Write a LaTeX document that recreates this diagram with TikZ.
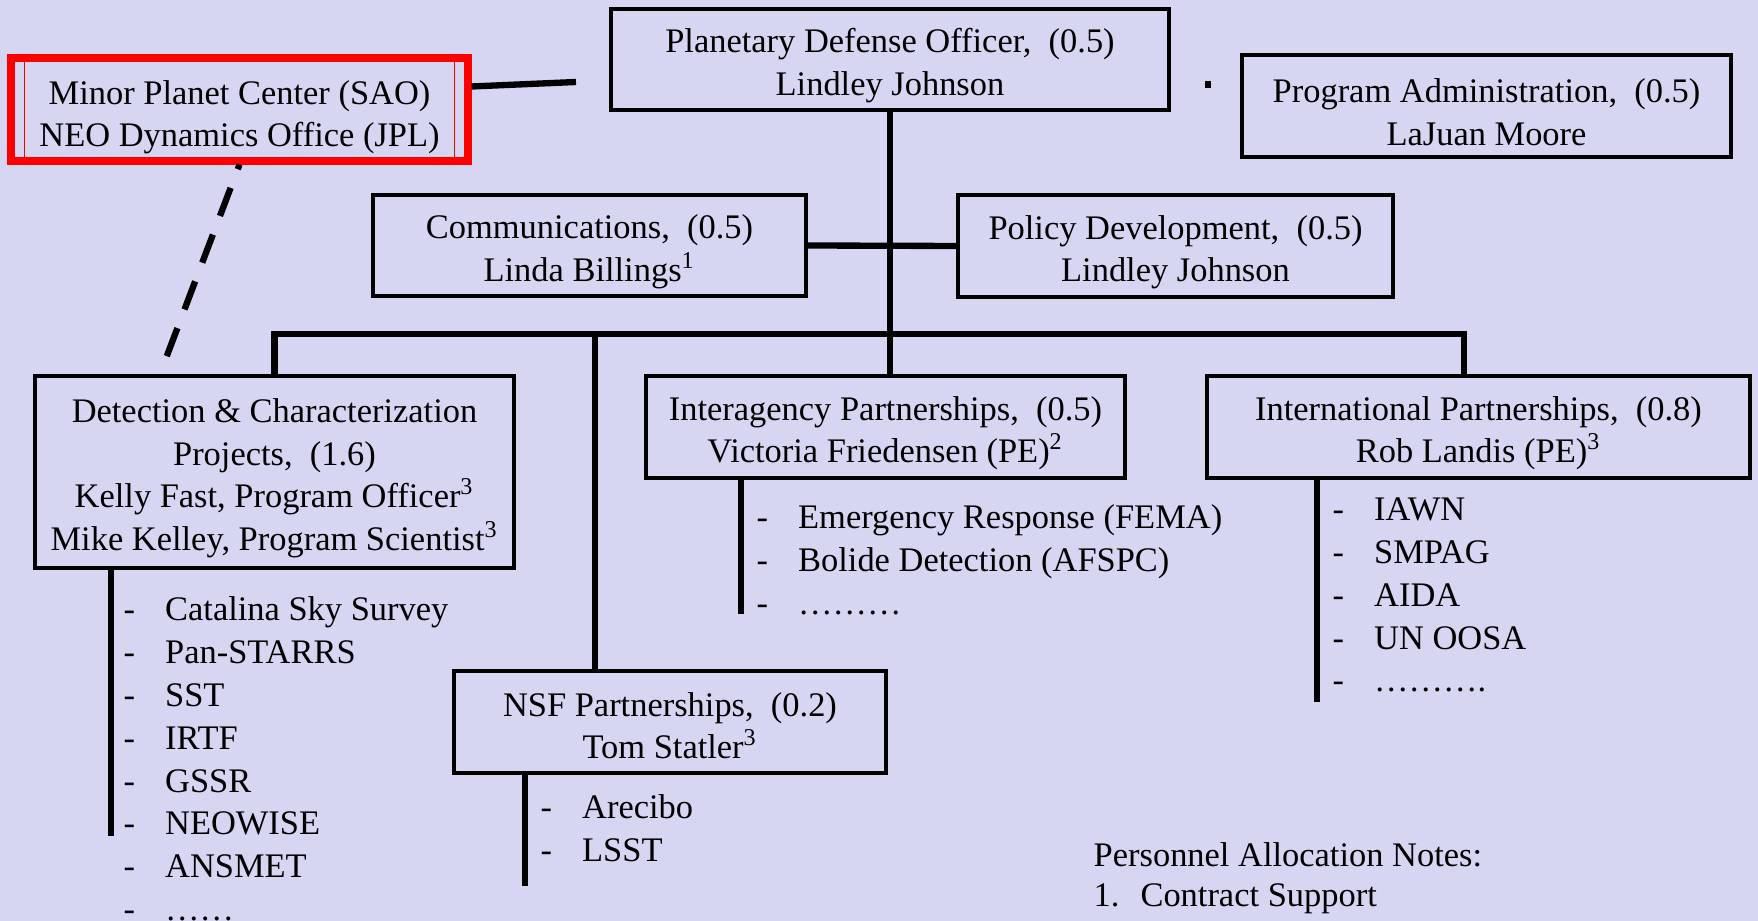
\documentclass[tikz,border=0pt]{standalone}
\usepackage{fontspec}
\setmainfont{Liberation Serif}
\usepackage{tikz}
\usetikzlibrary{positioning}
\usepackage{xcolor}
\definecolor{bglav}{RGB}{214,214,243}
\newcommand{\orgfont}{\fontsize{9.8}{12.1}\selectfont}
\newcommand{\listfont}{\fontsize{9.8}{12.2}\selectfont}
\newcommand{\dashit}{-\hspace{0.3cm}}
\newcommand{\boxtop}[1][0.36cm]{\rule{0pt}{#1}}

\tikzset{
  orgbox/.style={draw, line width=1.2pt, inner sep=0pt, align=center, font=\orgfont},
  link/.style={line width=1.8pt},
  itemlist/.style={anchor=north west, inner sep=0pt, align=left, font=\listfont}
}

\begin{document}
\begin{tikzpicture}
\fill[bglav] (0,0) rectangle (17.58,9.21);
\useasboundingbox (0,0) rectangle (17.58,9.21);
% boxes
\node[orgbox, draw=red, line width=2pt, minimum width=4.57cm, minimum height=1.03cm] (mpc) at (2.395,8.115) {\boxtop[0.39cm]Minor Planet Center (SAO)\\NEO Dynamics Office (JPL)};
\draw[red, line width=0.5pt] ([xshift=0.17cm]mpc.south west) rectangle ([xshift=-0.17cm]mpc.north east);
\node[orgbox, minimum width=5.58cm, minimum height=1.01cm] (pdo) at (8.90,8.615) {\boxtop Planetary Defense Officer,~ (0.5)\\Lindley Johnson};
\node[orgbox, minimum width=4.89cm, minimum height=1.02cm] (padm) at (14.865,8.15) {\boxtop Program Administration,~ (0.5)\\LaJuan Moore};
\node[orgbox, minimum width=4.33cm, minimum height=1.01cm] (comm) at (5.895,6.755) {\boxtop Communications,~ (0.5)\\Linda Billings\textsuperscript{1}};
\node[orgbox, minimum width=4.35cm, minimum height=1.02cm] (policy) at (11.755,6.75) {\boxtop Policy Development,~ (0.5)\\Lindley Johnson};
\node[orgbox, minimum width=4.79cm, minimum height=1.92cm] (detect) at (2.745,4.49) {\boxtop Detection \& Characterization\\Projects,~ (1.6)\\Kelly Fast, Program Officer\textsuperscript{3}\\Mike Kelley, Program Scientist\textsuperscript{3}};
\node[orgbox, minimum width=4.79cm, minimum height=1.02cm] (inter) at (8.855,4.94) {\boxtop Interagency Partnerships,~ (0.5)\\Victoria Friedensen (PE)\textsuperscript{2}};
\node[orgbox, minimum width=5.43cm, minimum height=1.02cm] (intl) at (14.785,4.94) {\boxtop International Partnerships,~ (0.8)\\Rob Landis (PE)\textsuperscript{3}};
\node[orgbox, minimum width=4.32cm, minimum height=1.02cm] (nsf) at (6.70,1.99) {\boxtop[0.31cm]NSF Partnerships,~ (0.2)\\Tom Statler\textsuperscript{3}};
% connectors
\coordinate (mpcTip) at (5.76,8.39);
\coordinate (dashEnd) at (1.60,5.47);
\coordinate (busR) at (14.64,5.87);
\coordinate (nsfTap) at (5.95,5.87);
\draw[link] ([yshift=0.23cm]mpc.east) -- (mpcTip);
\draw[link, dash pattern=on 0.3cm off 0.2cm, dash phase=0.25cm] (mpc.south) -- (dashEnd);
\fill (12.05,8.325) rectangle (12.11,8.395);
\draw[link] (pdo.south) -- (pdo.south |- inter.north);
\draw[link] (comm.east) -- (policy.west);
\draw[link] (detect.north) -- (detect.north |- busR) -- (busR) -- (busR |- intl.north);
\draw[link] (nsfTap) -- (nsfTap |- nsf.north);
% lists
\coordinate (detEnd) at (1.11,0.85);
\coordinate (interEnd) at (7.41,3.07);
\coordinate (intlEnd) at (13.17,2.19);
\coordinate (nsfEnd) at (5.25,0.35);
\draw[link] (detect.south -| detEnd) -- (detEnd);
\draw[link] (inter.south -| interEnd) -- (interEnd);
\draw[link] (intl.south -| intlEnd) -- (intlEnd);
\draw[link] (nsf.south -| nsfEnd) -- (nsfEnd);
\node[itemlist] (detlist) at (1.23,3.25) {\dashit Catalina Sky Survey\\\dashit Pan-STARRS\\\dashit SST\\\dashit IRTF\\\dashit GSSR\\\dashit NEOWISE\\\dashit ANSMET\\\dashit ……};
\node[itemlist] (interlist) at (7.56,4.17) {\dashit Emergency Response (FEMA)\\\dashit Bolide Detection (AFSPC)\\\dashit ………};
\node[itemlist] (intllist) at (13.32,4.24) {\dashit IAWN\\\dashit SMPAG\\\dashit AIDA\\\dashit UN OOSA\\\dashit ……….};
\node[itemlist] (nsflist) at (5.40,1.27) {\dashit Arecibo\\\dashit LSST};
% notes
\node[itemlist, font=\fontsize{9.8}{11.4}\selectfont] (notes) at (10.93,0.79) {Personnel Allocation Notes:\\1.\hspace{0.21cm}Contract Support};
\end{tikzpicture}
\end{document}
